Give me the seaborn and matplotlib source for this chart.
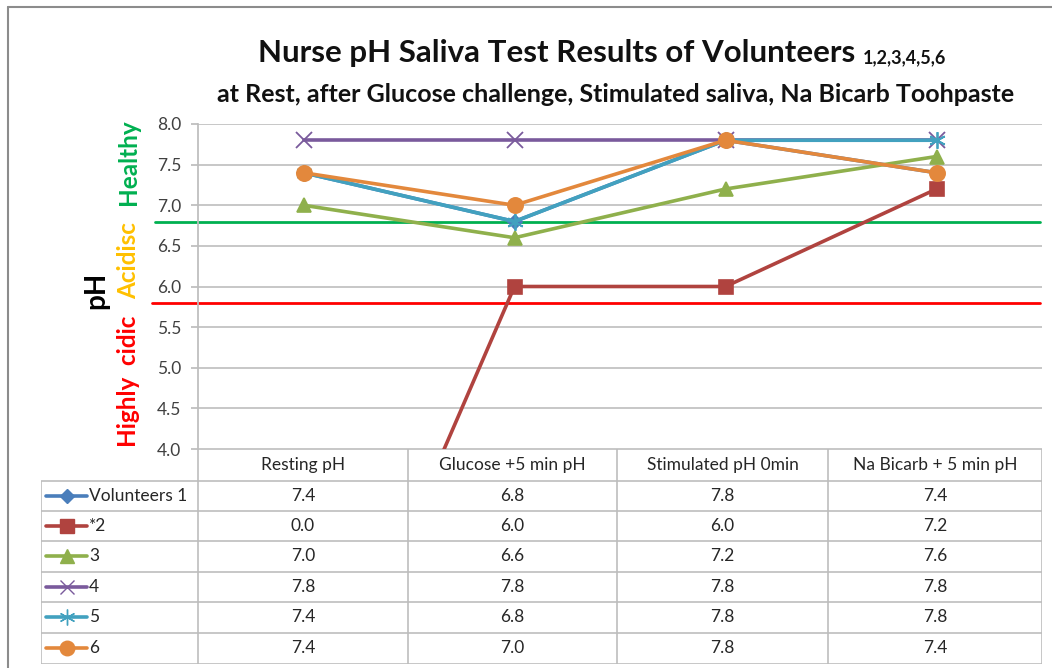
import pandas as pd
import matplotlib.pyplot as plt
from matplotlib.lines import Line2D
import seaborn as sns

# chart data
stages = ['Resting pH', 'Glucose +5 min pH', 'Stimulated pH 0min', 'Na Bicarb + 5 min pH']
volunteers = ['Volunteers 1', '*2', '3', '4', '5', '6']
v1 = [7.4, 6.8, 7.8, 7.4]
v2 = [0.0, 6.0, 6.0, 7.2]
v3 = [7.0, 6.6, 7.2, 7.6]
v4 = [7.8, 7.8, 7.8, 7.8]
v5 = [7.4, 6.8, 7.8, 7.8]
v6 = [7.4, 7.0, 7.8, 7.4]
healthy_line = 6.8
acidic_line = 5.8

series = [v1, v2, v3, v4, v5, v6]
colors = ['#4A7EBB', '#B0433F', '#8FB04C', '#7A5A9C', '#42A1BF', '#E3883C']
markers = ['D', 's', '^', 'x', (6, 2, 0), 'o']
msizes = [7, 10, 10, 11, 12, 11]

rows = []
for name, vals in zip(volunteers, series):
    for i, v in enumerate(vals):
        rows.append({'volunteer': name, 'stage': i, 'pH': v})
df = pd.DataFrame(rows)

W, H = 1052, 668
sns.set_theme(style='white')
plt.rcParams['font.family'] = ['Lato', 'DejaVu Sans']
fig = plt.figure(figsize=(W / 100, H / 100), dpi=100)


def fx(px):
    return px / W


def fy(py):
    return 1 - py / H


# outer frame (left and top edges of the chart area)
fig.add_artist(Line2D([fx(8), fx(8)], [fy(7), fy(668)], color='#8C8C8C', lw=1.5))
fig.add_artist(Line2D([fx(8), fx(1052)], [fy(7), fy(7)], color='#8C8C8C', lw=1.5))

ax = fig.add_axes([fx(198), fy(449), fx(1042) - fx(198), fy(124) - fy(449)])
for name, col, mk, ms in zip(volunteers, colors, markers, msizes):
    sns.lineplot(data=df[df['volunteer'] == name], x='stage', y='pH', color=col,
                 marker=mk, markersize=ms, linewidth=2.6, ax=ax, legend=False,
                 markeredgecolor=col, markeredgewidth=1.2 if mk not in ('x', (6, 2, 0)) else 1.3)

ax.set_xlim(-0.5, 3.5)
ax.set_ylim(4.0, 8.0)
ax.set_yticks([4.0, 4.5, 5.0, 5.5, 6.0, 6.5, 7.0, 7.5, 8.0])
ax.set_yticklabels([f'{t:.1f}' for t in ax.get_yticks()], fontsize=12.5, color='#404040')
ax.set_xticks([])
ax.set_xlabel('')
ax.set_ylabel('')
ax.grid(axis='y', color='#BDBDBD', lw=1.2)
ax.set_axisbelow(True)
for s in ['top', 'right', 'bottom']:
    ax.spines[s].set_visible(False)
ax.spines['left'].set_color('#BDBDBD')
ax.tick_params(axis='y', length=5, color='#BDBDBD', pad=7, left=True)

x1 = (1040 - 198) / 844
ax.axhline(healthy_line, (155 - 198) / 844, x1, color='#00B050', lw=2, clip_on=False, zorder=1.5)
ax.axhline(acidic_line, (152 - 198) / 844, x1, color='#FF0000', lw=2, clip_on=False, zorder=1.5)

# titles
t1 = fig.text(fx(258), fy(53), 'Nurse pH Saliva Test Results of Volunteers', fontsize=22.5,
              fontweight='bold', color='#111111', va='center', ha='left')
fig.canvas.draw()
bb = t1.get_window_extent()
fig.text(bb.x1 / W + fx(8), fy(58), '1,2,3,4,5,6', fontsize=13, fontweight='bold',
         color='#111111', va='center', ha='left')
fig.text(fx(616), fy(94), 'at Rest, after Glucose challenge, Stimulated saliva, Na Bicarb Toohpaste',
         fontsize=18, fontweight='bold', color='#111111', va='center', ha='center')

# side labels
fig.text(fx(129), fy(162), 'Healthy', rotation=90, color='#00B050', fontsize=17.5,
         fontweight='bold', ha='center', va='center')
fig.text(fx(129), fy(261), 'Acidisc', rotation=90, color='#FFC000', fontsize=17.5,
         fontweight='bold', ha='center', va='center')
fig.text(fx(129), fy(381), 'Highly  cidic', rotation=90, color='#FF0000', fontsize=17.5,
         fontweight='bold', ha='center', va='center')
fig.text(fx(96), fy(290), 'pH', rotation=90, color='black', fontsize=20,
         fontweight='bold', ha='center', va='center')

# data table
tax = fig.add_axes([fx(41), fy(664), fx(1042) - fx(41), fy(449) - fy(664)])
tax.set_xlim(41, 1042)
tax.set_ylim(664, 449)
tax.axis('off')
col_edges = [198, 408, 617, 828, 1042]
row_edges = [481, 511, 541, 572, 602, 633, 664]
grid_c = '#BDBDBD'
tax.hlines(449, 198, 1042, color=grid_c, lw=1.2)
tax.hlines(row_edges, 41, 1042, color=grid_c, lw=1.2)
tax.vlines(41, 481, 664, color=grid_c, lw=1.2)
tax.vlines(col_edges, 449, 664, color=grid_c, lw=1.2)

centers = [(a + b) / 2 for a, b in zip(col_edges[:-1], col_edges[1:])]
for cx, lab in zip(centers, stages):
    tax.text(cx, 465, lab, ha='center', va='center', fontsize=12.5, color='#262626')

for i, (name, vals, col, mk, ms) in enumerate(zip(volunteers, series, colors, markers, msizes)):
    cy = (row_edges[i] + row_edges[i + 1]) / 2
    tax.plot([46, 87], [cy, cy], color=col, lw=2.6, clip_on=False)
    tax.plot([66.5], [cy], marker=mk, color=col, markersize=ms * 0.95, mec=col, clip_on=False)
    tax.text(89, cy, name, ha='left', va='center', fontsize=12.5, color='#262626')
    for cx, v in zip(centers, vals):
        tax.text(cx, cy, f'{v:.1f}', ha='center', va='center', fontsize=12.5, color='#262626')

fig.savefig('out.png', dpi=100)
